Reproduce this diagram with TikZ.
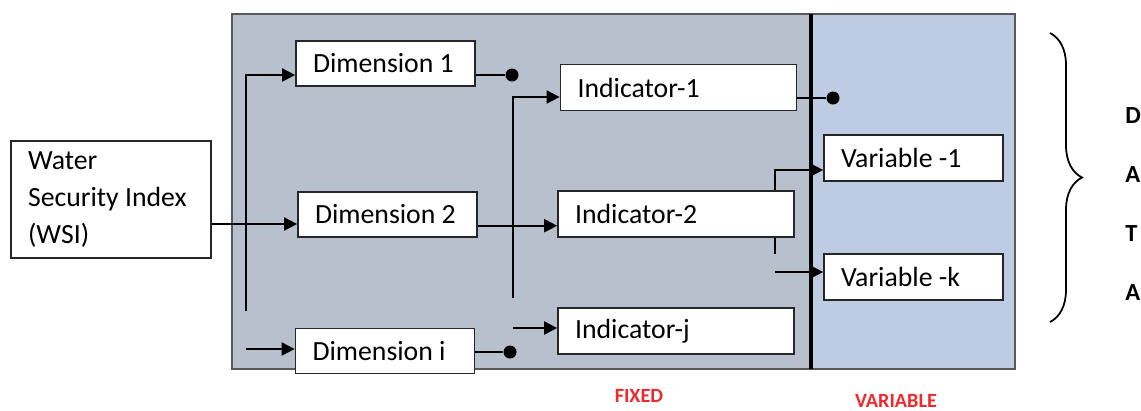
\documentclass[tikz,border=0pt]{standalone}
\usepackage{fontspec}
\setmainfont{Carlito}
\usetikzlibrary{arrows.meta, positioning, backgrounds, decorations.pathreplacing}

\definecolor{fixedgray}{HTML}{B8BFCD}
\definecolor{varblue}{HTML}{BDCCE3}
\definecolor{tagred}{HTML}{EE2A2E}

\tikzset{
    block/.style={rectangle, draw=black!85, line width=1pt, fill=white, align=flush left, inner xsep=0.34cm, inner ysep=0pt, minimum height=0.9cm, font=\fontsize{15.8}{18}\selectfont},
    dimbox/.style={block, text width=2.9cm},
    indbox/.style={block, text width=4.04cm, minimum height=0.92cm},
    varbox/.style={block, text width=2.9cm, minimum height=0.92cm},
    arrow/.style={-{Triangle[length=0.26cm, width=0.26cm]}, line width=1.1pt},
    wire/.style={line width=1.1pt},
    dot/.style={circle, fill=black, inner sep=0pt, minimum size=0.26cm},
    panel/.style={draw=black!65, line width=0.8pt},
    tag/.style={text=tagred, anchor=base, inner sep=0pt, font=\fontsize{11.5}{14}\selectfont\bfseries}
}

\begin{document}
\begin{tikzpicture}[x=0.02cm, y=-0.02cm]
        \useasboundingbox (0,0) rectangle (1141,410);

        % --- Index box ---
        \node (WSI) [block, text width=3.32cm, minimum height=2.34cm, font=\fontsize{15.8}{21}\selectfont] at (111,199.5) {Water \\ Security Index \\ (WSI)};

        % --- Dimensions ---
        \node (Dim1) [dimbox] at (385.5,63.5) {Dimension 1};
        \node (Dim2) [dimbox, below=2.08cm of Dim1, xshift=0.04cm] {Dimension 2};
        \node (DimI) [dimbox, below=1.8cm of Dim2, xshift=-0.05cm] {Dimension i};

        % --- Indicators ---
        \node (Ind1) [indbox] at (678.5,87.5) {Indicator-1};
        \node (Ind2) [indbox, below=1.58cm of Ind1, xshift=-0.05cm] {Indicator-2};
        \node (IndJ) [indbox, below=1.38cm of Ind2] {Indicator-j};

        % --- Variables ---
        \node (Var1) [varbox] at (913.5,158) {Variable -1};
        \node (VarK) [varbox, below=1.42cm of Var1] {Variable -k};

        % --- End dots ---
        \node (Dot1) [dot] at (512,75) {};
        \node (Dot2) [dot] at (510,352) {};
        \node (Dot3) [dot] at (833,98) {};

        % --- Branch points ---
        \coordinate (WSIout) at ([yshift=-0.49cm]WSI.east);
        \coordinate (Dim2out) at ([yshift=-0.23cm]Dim2.east);
        \coordinate (DimFork) at (246,311);
        \coordinate (DimLow) at (246,349);
        \coordinate (IndFork) at (513,298);
        \coordinate (IndLow) at (513,328);
        \coordinate (VarFork) at (775,254);
        \coordinate (VarLow) at (775,272);

        % --- Arrows ---
        \draw [arrow] (WSIout) -- (WSIout -| Dim2.west);
        \draw [arrow] (DimFork) |- ([yshift=-0.23cm]Dim1.west);
        \draw [arrow] (DimLow) -- (DimLow -| DimI.west);

        \draw [wire] (Dot1 -| Dim1.east) -- (Dot1);
        \draw [wire] (Dot2 -| DimI.east) -- (Dot2);

        \draw [arrow] (IndFork) |- ([yshift=-0.19cm]Ind1.west);
        \draw [arrow] (Dim2out) -- (Dim2out -| Ind2.west);
        \draw [arrow] (IndLow) -- (IndLow -| IndJ.west);

        \draw [wire] (Dot3 -| Ind1.east) -- (Dot3);
        \draw [arrow] (VarLow) -- (VarLow -| VarK.west);

        % --- Captions ---
        \node (Fixed) [tag] at (639,402) {FIXED};
        \node (Variable) [tag] at (896,407) {VARIABLE};

        % --- Brace and data ---
        \coordinate (BraceTop) at (1050,33);
        \coordinate (BraceBot) at (1050,322);
        \draw [line width=1pt, decorate, decoration={brace, amplitude=0.64cm}] (BraceTop) -- (BraceBot);
        \node (Data) [anchor=west, inner sep=0pt, align=left, font=\fontsize{14}{33.5}\selectfont\bfseries] at (1125,204) {D\\A\\T\\A};

        % --- Panels (behind everything) ---
        \begin{pgfonlayer}{background}
            \draw [panel, fill=fixedgray] (232,14) rectangle (811,369);
            \draw [panel, fill=varblue] (811,14) rectangle (1015,369);
            \draw [line width=1.8pt] (811,14) -- (811,369);
            % runs under Indicator-2
            \draw [arrow] (VarFork) |- ([yshift=-0.24cm]Var1.west);
        \end{pgfonlayer}
    \end{tikzpicture}
\end{document}
